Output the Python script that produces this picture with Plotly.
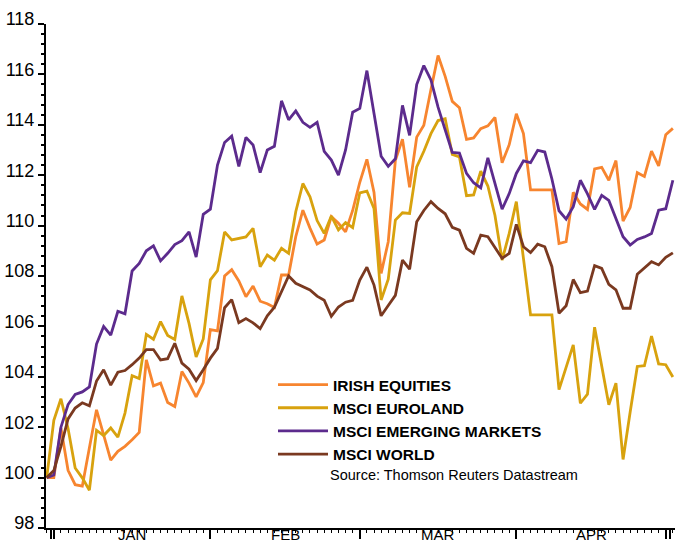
import plotly.graph_objects as go

# trading-day index (30 Dec -> 2 May)
days = list(range(89))

irish = [100.0, 100.0, 101.97, 100.29, 99.72, 99.66, 101.18, 102.69, 101.7, 100.69,
         101.04, 101.24, 101.5, 101.79, 104.67, 103.64, 103.75, 102.98, 102.82, 104.21,
         103.75, 103.2, 103.77, 105.87, 105.82, 108.0, 108.25, 107.8, 107.18, 107.6,
         107.0, 106.9, 106.75, 108.04, 108.04, 109.56, 110.61, 109.9, 109.27, 109.43,
         110.36, 110.09, 109.75, 110.6, 111.72, 112.63, 111.32, 108.1, 109.36, 112.59,
         113.43, 111.52, 113.51, 113.98, 115.4, 116.75, 115.92, 114.93, 114.68, 113.42,
         113.48, 113.85, 113.96, 114.29, 112.49, 113.21, 114.44, 113.65, 111.42, 111.42,
         111.42, 111.42, 109.29, 109.36, 111.32, 110.86, 110.64, 112.25, 112.31, 111.8,
         112.58, 110.18, 110.72, 112.1, 111.95, 112.96, 112.37, 113.61, 113.86]

euroland = [100.0, 102.27, 103.13, 101.95, 100.38, 99.99, 99.5, 101.88, 101.67, 101.97,
            101.61, 102.56, 104.04, 103.93, 105.68, 105.49, 106.19, 105.64, 105.48, 107.21,
            106.12, 104.79, 105.5, 107.85, 108.21, 109.75, 109.43, 109.48, 109.55, 109.89,
            108.37, 108.83, 108.63, 109.1, 108.9, 110.55, 111.67, 111.14, 110.2, 109.69,
            110.38, 109.83, 110.12, 109.92, 111.3, 111.37, 110.68, 107.05, 107.87, 110.22,
            110.51, 110.48, 112.33, 112.95, 113.65, 114.17, 114.24, 112.82, 112.73, 111.19,
            111.22, 112.16, 111.57, 110.4, 108.63, 109.69, 110.95, 108.7, 106.46, 106.46,
            106.46, 106.46, 103.49, 104.41, 105.27, 102.95, 103.31, 105.97, 104.36, 102.89,
            103.75, 100.72, 102.6, 104.41, 104.44, 105.62, 104.51, 104.48, 103.99]

emerging = [100.0, 100.1, 102.0, 102.9, 103.3, 103.4, 103.6, 105.3, 106.0, 105.65,
            106.6, 106.5, 108.2, 108.5, 109.0, 109.2, 108.6, 108.9, 109.25, 109.4,
            109.75, 108.75, 110.45, 110.65, 112.4, 113.3, 113.55, 112.35, 113.5, 113.2,
            112.1, 113.0, 113.15, 114.95, 114.2, 114.55, 114.1, 113.9, 114.1, 112.95,
            112.6, 112.0, 113.0, 114.5, 114.65, 116.15, 114.45, 112.75, 112.35, 112.65,
            114.77, 113.58, 115.6, 116.35, 115.78, 114.7, 113.8, 112.9, 112.88, 112.07,
            111.7, 111.5, 112.69, 111.67, 110.65, 111.27, 112.07, 112.57, 112.5, 112.99,
            112.92, 111.85, 110.59, 110.26, 110.75, 111.8, 111.26, 110.64, 111.2, 111.0,
            110.3, 109.56, 109.23, 109.45, 109.55, 109.69, 110.61, 110.67, 111.8]

world = [100.0, 100.28, 101.24, 102.33, 102.76, 102.97, 102.85, 103.83, 104.28, 103.67,
         104.18, 104.25, 104.48, 104.74, 105.08, 105.08, 104.67, 104.72, 105.33, 104.54,
         104.3, 103.85, 104.28, 104.74, 105.13, 106.74, 107.06, 106.15, 106.31, 106.14,
         105.91, 106.42, 106.76, 107.38, 108.0, 107.71, 107.58, 107.45, 107.2, 107.04,
         106.4, 106.77, 106.96, 107.03, 107.84, 108.35, 107.64, 106.42, 106.83, 107.23,
         108.63, 108.27, 110.15, 110.6, 110.95, 110.68, 110.47, 109.93, 109.82, 109.1,
         108.9, 109.62, 109.56, 109.14, 108.7, 108.9, 110.05, 109.16, 108.93, 109.26,
         109.16, 108.37, 106.52, 106.82, 107.86, 107.34, 107.4, 108.41, 108.3, 107.67,
         107.45, 106.72, 106.72, 108.07, 108.34, 108.57, 108.44, 108.74, 108.92]

series_names = ["IRISH EQUITIES", "MSCI EUROLAND", "MSCI EMERGING MARKETS", "MSCI WORLD"]
series_colors = ["#F7852F", "#D8A20E", "#5C2B8D", "#7A3920"]

month_labels = ["JAN", "FEB", "MAR", "APR"]
month_start_idx = [1, 23, 44, 66, 87]
y_ticks = list(range(98, 119, 2))

FONT = "Liberation Sans, Arial, sans-serif"

fig = go.Figure()
for name, vals, col in zip(series_names, [irish, euroland, emerging, world], series_colors):
    fig.add_trace(go.Scatter(x=days, y=vals, mode="lines", name=name,
                             line=dict(color=col, width=2.8)))

for i, lab in enumerate(month_labels):
    xm = (month_start_idx[i] + month_start_idx[i + 1]) / 2
    fig.add_annotation(x=xm, xref="x", y=-16 / 504, yref="paper", yanchor="bottom",
                       text=lab, showarrow=False, borderpad=0,
                       font=dict(family=FONT, size=15, color="black"))

fig.add_annotation(x=(328 - 46) / 629, xref="paper", xanchor="left",
                   y=1 - (475 - 24) / 504, yref="paper", yanchor="middle",
                   text="Source: Thomson Reuters Datastream", showarrow=False,
                   font=dict(family=FONT, size=14.5, color="black"))

fig.update_layout(
    width=675, height=544,
    margin=dict(l=46, r=0, t=24, b=16),
    paper_bgcolor="white", plot_bgcolor="white",
    showlegend=True,
    legend=dict(x=(273 - 46) / 629, y=1 - (368 - 24) / 504, xanchor="left", yanchor="top",
                bgcolor="rgba(0,0,0,0)", itemwidth=50,
                font=dict(family=FONT, size=15.5, color="black", weight="bold")),
    font=dict(family=FONT, color="black"),
)

fig.update_xaxes(
    range=[-0.1, 88.3], showgrid=False, zeroline=False,
    showline=True, linecolor="black", linewidth=2,
    tickvals=[0.6] + month_start_idx + [87.6], ticktext=[""] * 7,
    ticks="outside", ticklen=9, tickwidth=1.5, tickcolor="black",
    minor=dict(dtick=1, tick0=0, ticks="outside", ticklen=3, tickcolor="black", tickwidth=1),
)
fig.update_yaxes(
    range=[98, 118], showgrid=False, zeroline=False,
    showline=True, linecolor="black", linewidth=2,
    tickvals=y_ticks, ticks="outside", ticklen=6, tickwidth=2, tickcolor="black",
    ticklabelshift=-5,
    tickfont=dict(family=FONT, size=18, color="black"),
    minor=dict(dtick=0.4, tick0=98, ticks="outside", ticklen=3, tickcolor="black", tickwidth=1.5),
)

fig.write_html("out.html")
